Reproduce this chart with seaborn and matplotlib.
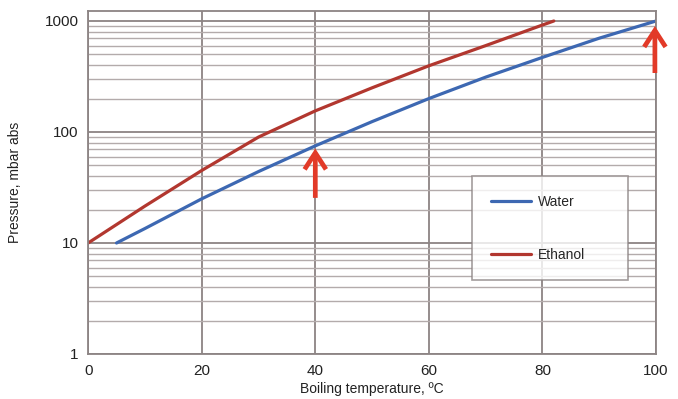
import matplotlib
matplotlib.use("Agg")
import matplotlib.pyplot as plt
import seaborn as sns
import pandas as pd
from matplotlib import font_manager

# Data
water_temp = [5, 10, 20, 30, 40, 50, 60, 70, 80, 90, 100]
water_pres = [10, 13.5, 25, 44, 75, 124, 200, 312, 470, 700, 1000]
ethanol_temp = [0, 10, 20, 30, 40, 50, 60, 70, 80, 82]
ethanol_pres = [10, 21.5, 45, 90, 155, 250, 395, 600, 920, 1000]
x_ticks = [0, 20, 40, 60, 80, 100]
y_ticks = [1, 10, 100, 1000]
y_tick_labels = ["1", "10", "100", "1000"]

df = pd.concat([
    pd.DataFrame({"temp": water_temp, "pres": water_pres, "fluid": "Water"}),
    pd.DataFrame({"temp": ethanol_temp, "pres": ethanol_pres, "fluid": "Ethanol"}),
])

sns.set_theme(style="white")
names = {f.name for f in font_manager.fontManager.ttflist}
fam = "Liberation Sans Narrow" if "Liberation Sans Narrow" in names else "Liberation Sans"
plt.rcParams["font.family"] = [fam, "DejaVu Sans"]

fig = plt.figure(figsize=(6.78, 3.99), dpi=100)
ax = fig.add_axes([0.13, 0.1128, 0.8376, 0.8596])

grid_c = "#8c8484"
ax.set_yscale("log")
ax.set_xlim(0, 100)
ax.set_ylim(1, 1230)

ax.set_yticks(y_ticks)
ax.set_yticklabels(y_tick_labels)
ax.set_xticks(x_ticks)
ax.yaxis.set_minor_locator(matplotlib.ticker.LogLocator(base=10, subs=range(2, 10)))
ax.yaxis.set_minor_formatter(matplotlib.ticker.NullFormatter())
ax.grid(True, which="major", axis="both", color=grid_c, linewidth=1.3)
ax.grid(True, which="minor", axis="y", color="#b3abab", linewidth=1.0)
ax.tick_params(axis="y", which="minor", length=0)
ax.tick_params(axis="both", which="major", length=5, width=1.2, color=grid_c,
               labelsize=11, labelcolor="#222222", pad=2, direction="out")
ax.set_axisbelow(True)
for s in ax.spines.values():
    s.set_color(grid_c)
    s.set_linewidth(1.3)

sns.lineplot(data=df, x="temp", y="pres", hue="fluid", ax=ax,
             palette={"Water": "#3d68b2", "Ethanol": "#b2372f"},
             linewidth=2.3, legend=True, sort=True)

ax.set_xlabel("Boiling temperature, ºC", fontsize=10, color="#222222", labelpad=3)
ax.set_ylabel("Pressure, mbar abs", fontsize=10, color="#222222", labelpad=16)

leg = ax.legend(loc="upper left", bbox_to_anchor=(0.676, 0.213, 0.2746, 0.306),
                mode="expand", frameon=True,
                fontsize=10, labelspacing=2.8, handlelength=2.9,
                borderpad=1.35, borderaxespad=0, fancybox=False,
                handletextpad=0.5)
leg.get_frame().set_edgecolor("#8c8484")
leg.get_frame().set_linewidth(1.2)

# arrows (thick chevron heads)
arrow_c = "#e23a28"
aprops = dict(arrowstyle="->,head_length=0.85,head_width=0.55", mutation_scale=14,
              color=arrow_c, lw=3.4, shrinkA=0, shrinkB=0,
              joinstyle="miter", capstyle="butt")
ax.annotate("", xy=(40, 71), xytext=(40, 25.5), arrowprops=aprops)
ax.annotate("", xy=(99.8, 900), xytext=(99.8, 340), arrowprops=aprops)

fig.savefig("out.png", dpi=100)
